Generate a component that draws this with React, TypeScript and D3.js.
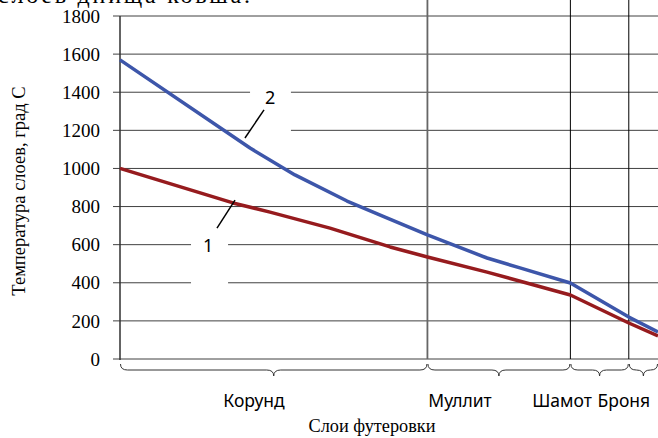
import React from "react";
import * as d3 from "d3";

// ---- data ----
const yTicks = [0, 200, 400, 600, 800, 1000, 1200, 1400, 1600, 1800];
// position along lining thickness (arbitrary units), temperature °C
const series2X = [0, 84.6, 113.8, 147.7, 172.4, 200, 238.8, 260.2, 293, 331, 350];
const series2Y = [1570, 1107, 966, 829, 745, 651, 530, 478, 399, 220, 142];
const series1X = [0, 73.5, 97.6, 136.6, 175.7, 200, 238.8, 293, 331, 350];
const series1Y = [1000, 819, 771, 687, 588, 535, 456, 336, 189, 121];
const layerNames = ["Корунд", "Муллит", "Шамот", "Броня"];
const layerBounds = [0, 200, 293, 331, 350];
const layerLabelX = [87.2, 221.2, 287.6, 327.8];
const yTitle = "Температура слоев, град С";
const xTitle = "Слои футеровки";
const topText = "слоев днища ковша.";

const W = 658;
const H = 438;

export default function App() {
  const x = d3.scaleLinear().domain([0, 350]).range([120, 658]);
  const y = d3.scaleLinear().domain([0, 1800]).range([359, 16]);
  const line = d3
    .line<[number, number]>()
    .x((d) => x(d[0]))
    .y((d) => y(d[1]));
  const s1 = series1X.map((v, i) => [v, series1Y[i]] as [number, number]);
  const s2 = series2X.map((v, i) => [v, series2Y[i]] as [number, number]);

  const serif = { fontFamily: '"Liberation Serif", "Times New Roman", serif' };
  const sans = { fontFamily: '"Noto Sans", "Open Sans", sans-serif' };

  const brace = (a: number, b: number) => {
    const x0 = x(a) + 0.5;
    const x1 = x(b) - 0.5;
    const xm = (x0 + x1) / 2;
    const y0 = 364;
    const y1 = 370;
    const y2 = 376;
    const r = 7;
    return `M${x0},${y0} Q${x0},${y1} ${x0 + r},${y1} L${xm - r},${y1} Q${xm},${y1} ${xm},${y2} Q${xm},${y1} ${xm + r},${y1} L${x1 - r},${y1} Q${x1},${y1} ${x1},${y0}`;
  };

  return (
    <svg
      width={W}
      height={H}
      style={{ position: "absolute", left: 0, top: 0, background: "#fff" }}
    >
      <rect x={0} y={0} width={W} height={H} fill="#fff" />
      {/* cut-off top text */}
      <text x={-2} y={3} style={serif} fontSize={24} textLength={252} fill="#000">
        {topText}
      </text>
      {/* horizontal gridlines */}
      {yTicks.map((t) => (
        <line
          key={"g" + t}
          x1={113}
          x2={W}
          y1={y(t)}
          y2={y(t)}
          stroke="#404040"
          strokeWidth={1}
        />
      ))}
      {/* y tick labels */}
      {yTicks.map((t) => (
        <text
          key={"t" + t}
          x={100}
          y={y(t)}
          dy="0.35em"
          textAnchor="end"
          style={serif}
          fontSize={19}
          fill="#000"
        >
          {t}
        </text>
      ))}
      {/* y axis */}
      <line x1={x(0)} x2={x(0)} y1={y(1800)} y2={y(0) + 1} stroke="#303030" strokeWidth={1.5} />
      {/* layer separators */}
      {layerBounds.slice(1, 4).map((b, i) => (
        <line
          key={"v" + b}
          x1={x(b)}
          x2={x(b)}
          y1={0}
          y2={y(0)}
          stroke={i === 0 ? "#666" : "#000"}
          strokeWidth={i === 0 ? 1.8 : 1}
        />
      ))}
      {/* white label boxes hiding gridlines */}
      <rect x={x(46.2)} y={y(666)} width={x(70.3) - x(46.2)} height={y(362) - y(666)} fill="#fff" />
      <rect x={x(84.6)} y={y(1454)} width={x(111.2) - x(84.6)} height={y(1160) - y(1454)} fill="#fff" />
      {/* series */}
      <path d={line(s1) || ""} fill="none" stroke="#961B1E" strokeWidth={3.5} strokeLinejoin="round" />
      <path d={line(s2) || ""} fill="none" stroke="#3D56AA" strokeWidth={3.5} strokeLinejoin="round" />
      {/* leaders and numbers */}
      <line x1={x(63.1)} y1={y(687)} x2={x(74.8)} y2={y(834)} stroke="#000" strokeWidth={1.5} />
      <line x1={x(81.3)} y1={y(1160)} x2={x(93.7)} y2={y(1307)} stroke="#000" strokeWidth={1.5} />
      <text x={x(57.3)} y={y(593)} dy="0.35em" textAnchor="middle" style={sans} fontSize={18} fill="#000">
        1
      </text>
      <text x={x(97.6)} y={y(1370)} dy="0.35em" textAnchor="middle" style={sans} fontSize={18} fill="#000">
        2
      </text>
      {/* braces */}
      {layerNames.map((n, i) => (
        <path key={"b" + n} d={brace(layerBounds[i], layerBounds[i + 1])} fill="none" stroke="#333" strokeWidth={1} />
      ))}
      {/* layer labels */}
      {layerNames.map((n, i) => (
        <text
          key={"l" + n}
          x={x(layerLabelX[i])}
          y={407}
          textAnchor="middle"
          style={sans}
          fontSize={17.5}
          fill="#000"
        >
          {n}
        </text>
      ))}
      {/* axis titles */}
      <text x={372} y={432} textAnchor="middle" style={serif} fontSize={18.3} fill="#000">
        {xTitle}
      </text>
      <text
        transform={`translate(25,191) rotate(-90)`}
        textAnchor="middle"
        style={serif}
        fontSize={18.5}
        fill="#000"
      >
        {yTitle}
      </text>
    </svg>
  );
}
